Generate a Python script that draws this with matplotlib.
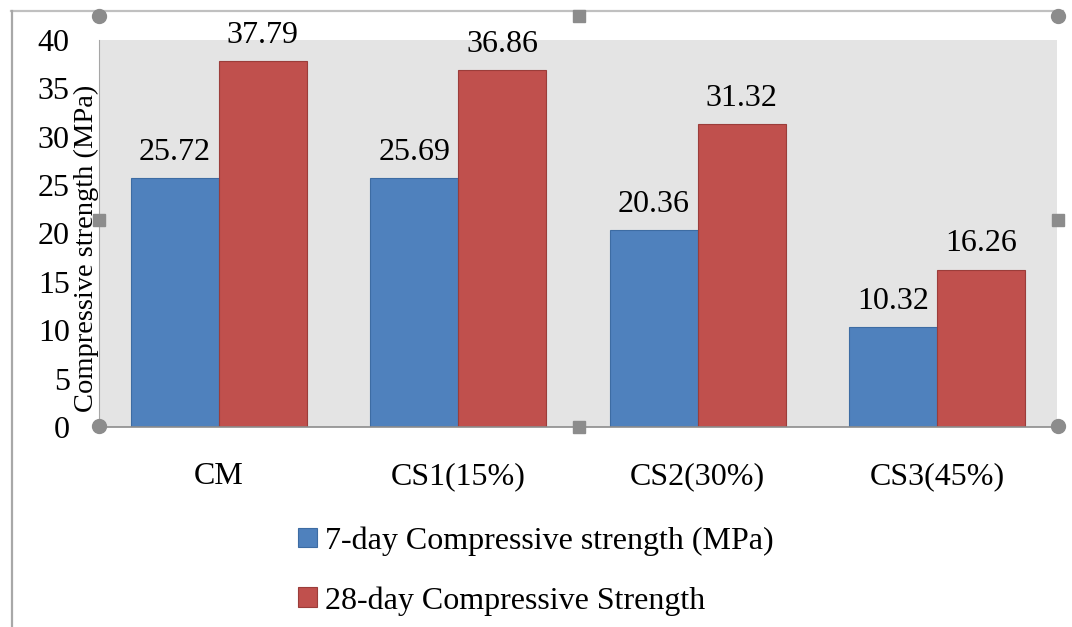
import numpy as np
import matplotlib.pyplot as plt
from matplotlib.lines import Line2D

plt.rcParams['font.family'] = ['Liberation Serif', 'DejaVu Serif']

categories = ["CM", "CS1(15%)", "CS2(30%)", "CS3(45%)"]
day7 = [25.72, 25.69, 20.36, 10.32]
day28 = [37.79, 36.86, 31.32, 16.26]
series_names = ["7-day Compressive strength (MPa)", "28-day Compressive Strength"]
yticks = [0, 5, 10, 15, 20, 25, 30, 35, 40]

W, H = 1072, 627
FS = 23


def fx(px):
    return px / W


def fy(py):
    return 1 - py / H


fig = plt.figure(figsize=(W / 100, H / 100), dpi=100)
ax = fig.add_axes([fx(99), fy(427), fx(1057) - fx(99), fy(40) - fy(427)])
ax.set_facecolor('#e4e4e4')

x = np.arange(len(categories))
w = 0.367
b1 = ax.bar(x - w / 2, day7, w, color='#4f81bd', edgecolor='#3d6ca3',
            linewidth=0.8, label=series_names[0], zorder=2)
b2 = ax.bar(x + w / 2, day28, w, color='#c0504d', edgecolor='#9b3d3a',
            linewidth=0.8, label=series_names[1], zorder=2)

for bars, vals in ((b1, day7), (b2, day28)):
    for r, v in zip(bars, vals):
        ax.annotate(f"{v:.2f}", (r.get_x() + r.get_width() / 2, v),
                    xytext=(0, 18.5), textcoords='offset points',
                    ha='center', va='center', fontsize=FS)

ax.set_xlim(-0.5, 3.5)
ax.set_ylim(0, 40)
ax.set_yticks(yticks)
ax.set_xticks(x, categories)
ax.tick_params(axis='y', length=0, labelsize=FS, pad=21)
ax.tick_params(axis='x', length=0, labelsize=FS, pad=25)
for s in ('top', 'right'):
    ax.spines[s].set_visible(False)
ax.spines['left'].set_color('#a6a6a6')
ax.spines['bottom'].set_color('#8c8c8c')
ax.spines['bottom'].set_linewidth(1.2)

ax.set_ylabel("Compressive strength (MPa)", fontsize=20.5, ha='center', va='center')
ax.yaxis.set_label_coords(-0.0136, 0.4625)

fig.legend(handles=[b1, b2], loc='center left',
           bbox_to_anchor=(fx(298), fy(571)), frameon=False, fontsize=FS,
           handlelength=0.58, handleheight=0.58, handletextpad=0.25,
           labelspacing=0.95, borderpad=0, borderaxespad=0)

# chart frame lines and selection handles
fig.add_artist(Line2D([fx(11), fx(1063)], [fy(11), fy(11)], color='#c0c0c0', lw=1.6))
fig.add_artist(Line2D([fx(12), fx(12)], [fy(11), fy(627)], color='#a8a8a8', lw=1.6))
for hx, hy in [(99, 16), (1058, 16), (99, 426), (1058, 426)]:
    fig.add_artist(Line2D([fx(hx)], [fy(hy)], marker='o', markersize=10,
                          color='#8c8c8c', ls='none'))
for hx, hy in [(579, 16), (99, 220), (1058, 220), (579, 427)]:
    fig.add_artist(Line2D([fx(hx)], [fy(hy)], marker='s', markersize=8.5,
                          color='#8c8c8c', ls='none'))

fig.savefig("out.png", dpi=100)
